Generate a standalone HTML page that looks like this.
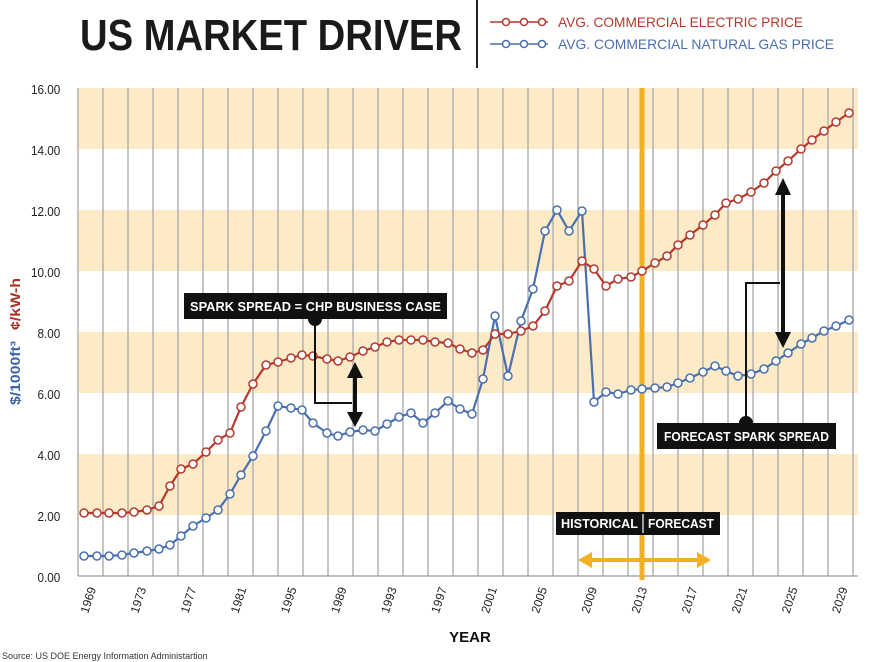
<!DOCTYPE html>
<html><head><meta charset="utf-8"><style>
body{margin:0;background:#fff;width:881px;height:662px;overflow:hidden}
svg{display:block}
text{font-family:"Liberation Sans",sans-serif}
</style></head><body>
<svg id="s" width="881" height="662" viewBox="0 0 881 662" xmlns="http://www.w3.org/2000/svg">
<rect width="881" height="662" fill="#fff"/>
<g fill="#fcebc6">
<rect x="78" y="88" width="780" height="61"/>
<rect x="78" y="210" width="780" height="61"/>
<rect x="78" y="332" width="780" height="61"/>
<rect x="78" y="454" width="780" height="61"/>
</g>
<g id="vl" stroke="#a8a8a8" stroke-width="1.3"></g>
<line x1="78" y1="576" x2="858" y2="576" stroke="#999" stroke-width="1.2"/>
<rect x="639.5" y="88" width="5" height="492" fill="#f2b124"/>
<g font-size="13" fill="#222" text-anchor="end" transform="scale(0.9,1)">
<text x="67" y="94">16.00</text><text x="67" y="155">14.00</text><text x="67" y="216">12.00</text>
<text x="67" y="277">10.00</text><text x="67" y="338">8.00</text><text x="67" y="399">6.00</text>
<text x="67" y="460">4.00</text><text x="67" y="521">2.00</text><text x="67" y="582">0.00</text>
</g>
<text transform="translate(20,405) rotate(-90)" font-size="14" font-weight="bold" fill="#3d63a5" textLength="64" lengthAdjust="spacingAndGlyphs">$/1000ft³</text>
<text transform="translate(20,330) rotate(-90)" font-size="14" font-weight="bold" fill="#a63228" textLength="52" lengthAdjust="spacingAndGlyphs">¢/kW-h</text>
<g id="xl" font-size="12" fill="#222"></g>
<text x="470" y="642" font-size="15" font-weight="bold" text-anchor="middle" fill="#111">YEAR</text>
<text x="2" y="659" font-size="9" fill="#333">Source: US DOE Energy Information Administartion</text>
<text x="80" y="50" font-size="44" font-weight="bold" fill="#1a1a1a" textLength="382" lengthAdjust="spacingAndGlyphs">US MARKET DRIVER</text>
<line x1="477" y1="0" x2="477" y2="68" stroke="#222" stroke-width="2"/>
<g stroke-width="1.5" fill="#fff">
<line x1="490" y1="22" x2="548" y2="22" stroke="#b5392e"/>
<circle cx="506" cy="22" r="3.5" stroke="#b5392e"/><circle cx="524" cy="22" r="3.5" stroke="#b5392e"/><circle cx="542" cy="22" r="3.5" stroke="#b5392e"/>
<line x1="490" y1="44" x2="548" y2="44" stroke="#4a6fae"/>
<circle cx="506" cy="44" r="3.5" stroke="#4a6fae"/><circle cx="524" cy="44" r="3.5" stroke="#4a6fae"/><circle cx="542" cy="44" r="3.5" stroke="#4a6fae"/>
</g>
<text x="558" y="27" font-size="14" fill="#b5392e" textLength="245" lengthAdjust="spacingAndGlyphs">AVG. COMMERCIAL ELECTRIC PRICE</text>
<text x="558" y="49" font-size="14" fill="#4a6fae" textLength="276" lengthAdjust="spacingAndGlyphs">AVG. COMMERCIAL NATURAL GAS PRICE</text>
<g id="series"></g>
<rect x="184" y="293" width="263" height="26" fill="#111"/>
<text x="190" y="311" font-size="13" font-weight="bold" fill="#fff" textLength="251" lengthAdjust="spacingAndGlyphs">SPARK SPREAD = CHP BUSINESS CASE</text>
<path d="M308,319 h14 a7,7 0 0 1 -14,0z" fill="#111"/>
<polyline points="315,322 315,403 352,403" fill="none" stroke="#111" stroke-width="2"/>
<line x1="355" y1="375" x2="355" y2="415" stroke="#111" stroke-width="4"/>
<polygon points="355,362 347,378 363,378" fill="#111"/><polygon points="355,427 347,412 363,412" fill="#111"/>
<rect x="657" y="423" width="179" height="26" fill="#111"/>
<text x="664" y="441" font-size="13" font-weight="bold" fill="#fff" textLength="165" lengthAdjust="spacingAndGlyphs">FORECAST SPARK SPREAD</text>
<path d="M739,423 h14 a7,7 0 0 0 -14,0z" fill="#111"/>
<polyline points="746,418 746,283 780,283" fill="none" stroke="#111" stroke-width="2"/>
<line x1="783" y1="192" x2="783" y2="335" stroke="#111" stroke-width="4"/>
<polygon points="783,178 775,195 791,195" fill="#111"/><polygon points="783,348 775,332 791,332" fill="#111"/>
<rect x="556" y="512" width="164" height="23" fill="#111"/>
<text x="561" y="528" font-size="13" font-weight="bold" fill="#fff" textLength="77" lengthAdjust="spacingAndGlyphs">HISTORICAL</text>
<line x1="643" y1="514" x2="643" y2="533" stroke="#fff" stroke-width="1.2"/>
<text x="648" y="528" font-size="13" font-weight="bold" fill="#fff" textLength="66" lengthAdjust="spacingAndGlyphs">FORECAST</text>
<line x1="590" y1="560" x2="700" y2="560" stroke="#f2b124" stroke-width="4"/>
<polygon points="578,560 592,552 592,568" fill="#f2b124"/><polygon points="711,560 697,552 697,568" fill="#f2b124"/>
</svg>
<script>
var NS="http://www.w3.org/2000/svg";
function el(t,a,p){var e=document.createElementNS(NS,t);for(var k in a)e.setAttribute(k,a[k]);p.appendChild(e);return e;}
var vl=document.getElementById('vl');
for(var x=78;x<=858;x+=25){el('line',{x1:x,y1:88,x2:x,y2:576},vl);}
var xl=document.getElementById('xl');
var labs=["1969","1973","1977","1981","1995","1989","1993","1997","2001","2005","2009","2013","2017","2021","2025","2029"];
for(var i=0;i<labs.length;i++){var cx=91+i*50.1;var t=el('text',{transform:'translate('+(cx-3)+',614) rotate(-72)'},xl);t.textContent=labs[i];}
var xs=[84,97,109,122,134,147,159,170,181,193,206,218,230,241,253,266,278,291,302,313,327,338,350,363,375,387,399,411,423,435,448,460,472,483,495,508,521,533,545,557,569,582,594,606,618,631,642,655,667,678,690,703,715,726,738,751,764,776,788,801,812,824,836,849];
var red=[513,513,513,513,512,510,506,486,469,464,452,440,433,407,384,365,362,358,355,356,359,361,357,351,347,342,340,340,340,342,343,349,353,350,334,334,331,326,311,286,281,261,269,286,279,277,271,263,256,245,235,225,215,203,199,192,183,171,161,149,140,131,122,113];
var blue=[556,556,556,555,553,551,549,545,536,526,518,510,494,475,456,431,406,408,410,423,433,436,432,430,431,424,417,413,423,413,401,409,414,379,316,376,321,289,231,210,231,211,402,392,394,390,389,388,387,383,378,372,366,371,376,374,369,361,353,344,338,331,326,320];
var g=document.getElementById('series');
function draw(ys,c){var n=Math.min(xs.length,ys.length);var pts=[];for(var i=0;i<n;i++)pts.push(xs[i]+','+ys[i]);
el('polyline',{points:pts.join(' '),fill:'none',stroke:c,'stroke-width':2.2},g);
for(var i=0;i<n;i++)el('circle',{cx:xs[i],cy:ys[i],r:4,fill:'#fff',stroke:c,'stroke-width':1.5},g);}
draw(blue,'#4a6fae');draw(red,'#b5392e');
</script>
</body></html>
